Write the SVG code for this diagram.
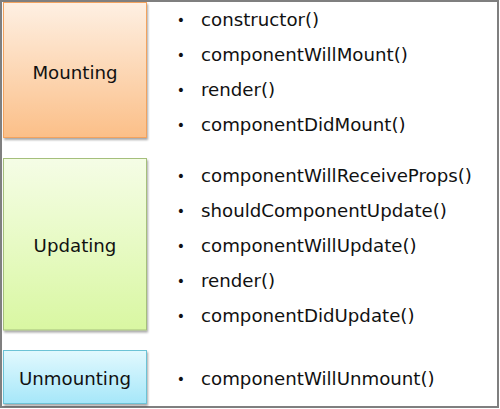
<svg xmlns="http://www.w3.org/2000/svg" width="500" height="409" viewBox="0 0 500 409">
  <defs>
    <linearGradient id="gM" x1="0" y1="0" x2="0" y2="1">
      <stop offset="0" stop-color="#fef0e3"/>
      <stop offset="1" stop-color="#fbbf88"/>
    </linearGradient>
    <linearGradient id="gU" x1="0" y1="0" x2="0" y2="1">
      <stop offset="0" stop-color="#f5fde6"/>
      <stop offset="1" stop-color="#d9f7a2"/>
    </linearGradient>
    <linearGradient id="gX" x1="0" y1="0" x2="0" y2="1">
      <stop offset="0" stop-color="#e2f9fe"/>
      <stop offset="1" stop-color="#a6e7f9"/>
    </linearGradient>
    <filter id="sh" x="-10%" y="-10%" width="125%" height="125%">
      <feGaussianBlur in="SourceAlpha" stdDeviation="1.2"/>
      <feOffset dx="1" dy="2" result="b"/>
      <feComponentTransfer><feFuncA type="linear" slope="0.35"/></feComponentTransfer>
      <feMerge><feMergeNode/><feMergeNode in="SourceGraphic"/></feMerge>
    </filter>
  </defs>
  <style>
    .lbl { font-family: "DejaVu Sans", Verdana, sans-serif; font-size: 18.2px; fill: #111; }
    .ctr { text-anchor: middle; }
    .bul { font-family: "DejaVu Sans", Verdana, sans-serif; font-size: 14px; fill: #111; text-anchor: middle; }
  </style>
  <rect x="1" y="1" width="497" height="406" fill="#ffffff" stroke="#7f7f7f" stroke-width="2"/>

  <g id="mounting">
    <rect x="3.5" y="2.5" width="143" height="135" fill="url(#gM)" stroke="#f2a35e" stroke-width="1" filter="url(#sh)"/>
    <text class="lbl ctr" x="75" y="79">Mounting</text>
  </g>
  <g id="updating">
    <rect x="3.5" y="158.5" width="143" height="171.5" fill="url(#gU)" stroke="#a5bf7c" stroke-width="1" filter="url(#sh)"/>
    <text class="lbl ctr" x="75" y="252">Updating</text>
  </g>
  <g id="unmounting">
    <rect x="3.5" y="350.5" width="143" height="53" fill="url(#gX)" stroke="#6cc3d6" stroke-width="1" filter="url(#sh)"/>
    <text class="lbl ctr" x="75" y="385">Unmounting</text>
  </g>

  <g id="mounting-list">
    <text class="bul" x="181" y="25">•</text><text class="lbl" x="201" y="26">constructor()</text>
    <text class="bul" x="181" y="60">•</text><text class="lbl" x="201" y="61">componentWillMount()</text>
    <text class="bul" x="181" y="95">•</text><text class="lbl" x="201" y="96">render()</text>
    <text class="bul" x="181" y="130">•</text><text class="lbl" x="201" y="131">componentDidMount()</text>
  </g>
  <g id="updating-list">
    <text class="bul" x="181" y="181">•</text><text class="lbl" x="201" y="182">componentWillReceiveProps()</text>
    <text class="bul" x="181" y="216">•</text><text class="lbl" x="201" y="217">shouldComponentUpdate()</text>
    <text class="bul" x="181" y="251">•</text><text class="lbl" x="201" y="252">componentWillUpdate()</text>
    <text class="bul" x="181" y="286">•</text><text class="lbl" x="201" y="287">render()</text>
    <text class="bul" x="181" y="321">•</text><text class="lbl" x="201" y="322">componentDidUpdate()</text>
  </g>
  <g id="unmounting-list">
    <text class="bul" x="181" y="384">•</text><text class="lbl" x="201" y="385">componentWillUnmount()</text>
  </g>
  <g id="connectors"></g>
</svg>
